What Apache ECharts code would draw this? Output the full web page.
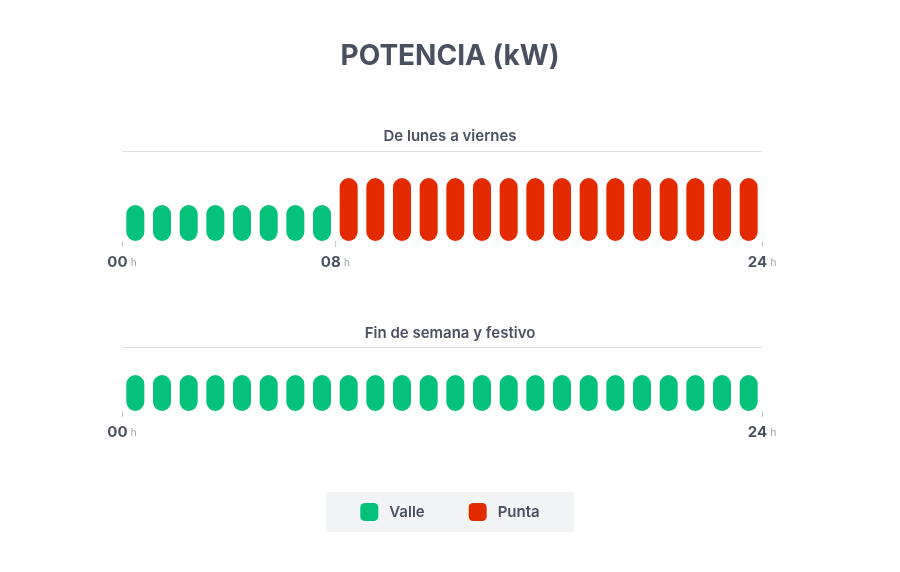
<!DOCTYPE html><html><head><meta charset="utf-8"><script src="https://cdn.jsdelivr.net/npm/echarts@6/dist/echarts.min.js"></script>
<style>html,body{margin:0;background:#fff}#c{width:900px;height:572px}</style></head><body><div id="c"></div><script>
const hours = Array.from({length:24},(_,i)=>String(i));
const weekdayValle = [4,4,4,4,4,4,4,4,null,null,null,null,null,null,null,null,null,null,null,null,null,null,null,null];
const weekdayPunta = [null,null,null,null,null,null,null,null,7,7,7,7,7,7,7,7,7,7,7,7,7,7,7,7];
const weekendValle = [4,4,4,4,4,4,4,4,4,4,4,4,4,4,4,4,4,4,4,4,4,4,4,4];
const weekdayTicks = [0,8,24];
const weekendTicks = [0,24];
const GREEN='#05c27a', RED='#e32a00', TXT='#4b5060', FONT='Inter';
const chart = echarts.init(document.getElementById('c'));
function fmt(v){return '{b|'+String(v).padStart(2,'0')+'} {h|h}';}
function valAxis(gi,ticks){return {type:'value',gridIndex:gi,min:0,max:24,position:'bottom',
  axisLine:{show:false},splitLine:{show:false},
  axisTick:{show:true,customValues:ticks,length:6,lineStyle:{color:'#c8cbd0'}},
  axisLabel:{customValues:ticks,formatter:fmt,margin:14,rich:{b:{fontFamily:FONT,fontWeight:'bold',fontSize:15,color:TXT},h:{fontFamily:FONT,fontSize:10,color:'#9a9ea6'}}}};}
function catAxis(gi){return {type:'category',gridIndex:gi,data:hours,show:false};}
const bar={type:'bar',barWidth:18,itemStyle:{borderRadius:9}};
chart.setOption({
  animation:false,
  title:[{text:'POTENCIA (kW)',left:'center',top:38,textStyle:{fontFamily:FONT,fontSize:28,fontWeight:'bold',color:TXT}},
    {text:'De lunes a viernes',left:'center',top:124,textStyle:{fontFamily:FONT,fontSize:15,fontWeight:600,color:TXT}},
    {text:'Fin de semana y festivo',left:'center',top:321,textStyle:{fontFamily:FONT,fontSize:15,fontWeight:600,color:TXT}}],
  graphic:[{type:'line',shape:{x1:122,y1:151.5,x2:762,y2:151.5},style:{stroke:'#dcdee2',lineWidth:1}},
    {type:'line',shape:{x1:122,y1:347.5,x2:762,y2:347.5},style:{stroke:'#dcdee2',lineWidth:1}}],
  legend:{bottom:40,left:'center',data:['Valle','Punta'],icon:'roundRect',itemWidth:18,itemHeight:18,itemGap:44,
    backgroundColor:'#f3f4f6',padding:[11,34,11,34],textStyle:{fontFamily:FONT,fontSize:15,fontWeight:600,color:TXT,padding:[0,0,0,6]}},
  grid:[{left:122,right:138,top:151,height:90},{left:122,right:138,top:321,height:90}],
  xAxis:[catAxis(0),valAxis(0,weekdayTicks),catAxis(1),valAxis(1,weekendTicks)],
  yAxis:[{type:'value',gridIndex:0,min:0,max:10,show:false},{type:'value',gridIndex:1,min:0,max:10,show:false}],
  series:[
    Object.assign({},bar,{name:'Valle',xAxisIndex:0,yAxisIndex:0,stack:'a',data:weekdayValle,itemStyle:{color:GREEN,borderRadius:9}}),
    Object.assign({},bar,{name:'Punta',xAxisIndex:0,yAxisIndex:0,stack:'a',data:weekdayPunta,itemStyle:{color:RED,borderRadius:9}}),
    Object.assign({},bar,{name:'Valle',xAxisIndex:2,yAxisIndex:1,data:weekendValle,itemStyle:{color:GREEN,borderRadius:9}})
  ]
});
</script></body></html>
